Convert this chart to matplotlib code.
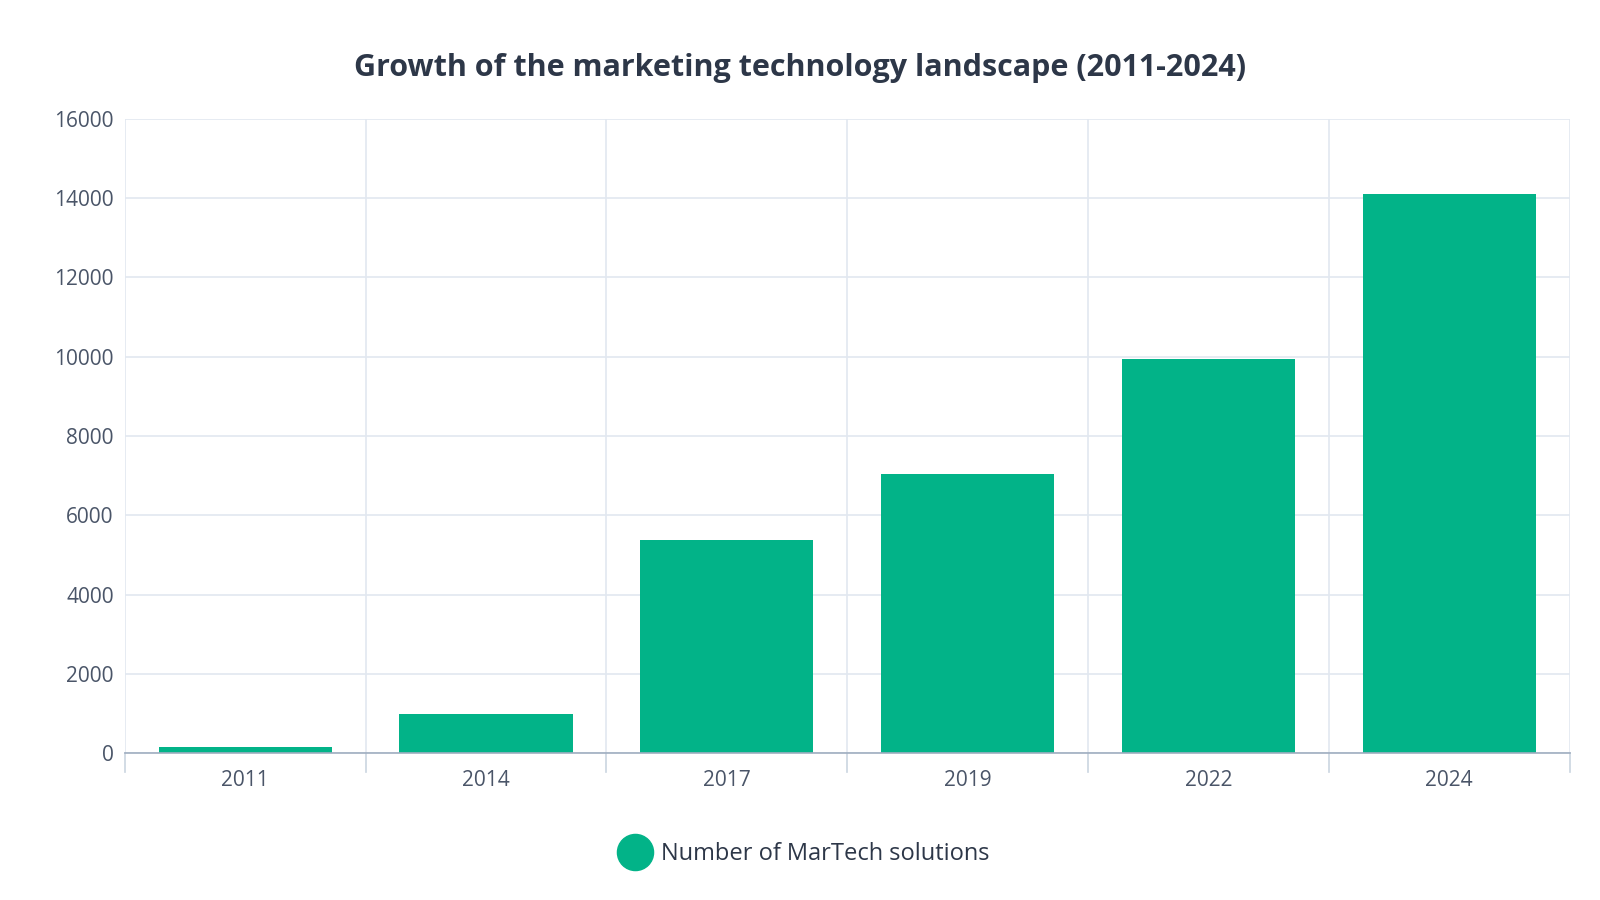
import matplotlib.pyplot as plt
import numpy as np
from matplotlib.lines import Line2D

plt.rcParams['font.family'] = ['Open Sans', 'DejaVu Sans']

years = ['2011', '2014', '2017', '2019', '2022', '2024']
solutions = [150, 1000, 5381, 7040, 9932, 14106]
y_ticks = [0, 2000, 4000, 6000, 8000, 10000, 12000, 14000, 16000]

green = '#02b388'
text_col = '#4a5568'
grid_col = '#e2e8f0'

fig = plt.figure(figsize=(16, 9), dpi=100)
ax = fig.add_axes([0.078, 0.163, 0.903, 0.705])

x = np.arange(len(years))
ax.bar(x, solutions, width=0.72, color=green, zorder=3)

ax.set_xlim(-0.5, len(years) - 0.5)
ax.set_ylim(0, 16000)
ax.set_yticks(y_ticks)
ax.set_yticklabels([str(t) for t in y_ticks], fontsize=15, color=text_col)
ax.set_xticks(x)
ax.set_xticklabels(years, fontsize=15, color=text_col)
ax.tick_params(axis='x', length=0, pad=12)
ax.tick_params(axis='y', length=0, pad=8)

# horizontal grid + vertical separators between categories
ax.grid(axis='y', color=grid_col, linewidth=1.2, zorder=0)
for b in np.arange(-0.5, len(years), 1.0):
    ax.axvline(b, color=grid_col, linewidth=1.2, zorder=0)
    ax.plot([b, b], [0, -0.03], transform=ax.get_xaxis_transform(),
            color='#cbd5e0', linewidth=1.2, clip_on=False)

for s in ['top', 'right', 'left']:
    ax.spines[s].set_visible(False)
ax.spines['bottom'].set_color('#a0aec0')
ax.spines['bottom'].set_linewidth(1.2)
ax.spines['bottom'].set_zorder(4)

fig.text(0.5, 0.924, 'Growth of the marketing technology landscape (2011-2024)',
         ha='center', va='center', fontsize=22, fontweight='bold', color='#2d3748')

handle = Line2D([], [], marker='o', linestyle='none', markersize=26,
                markerfacecolor=green, markeredgecolor=green)
fig.legend([handle], ['Number of MarTech solutions'], loc='center',
           bbox_to_anchor=(0.5, 0.051), frameon=False, fontsize=17,
           handletextpad=0.1, labelcolor='#2d3748')

fig.savefig('out.png', dpi=100)
